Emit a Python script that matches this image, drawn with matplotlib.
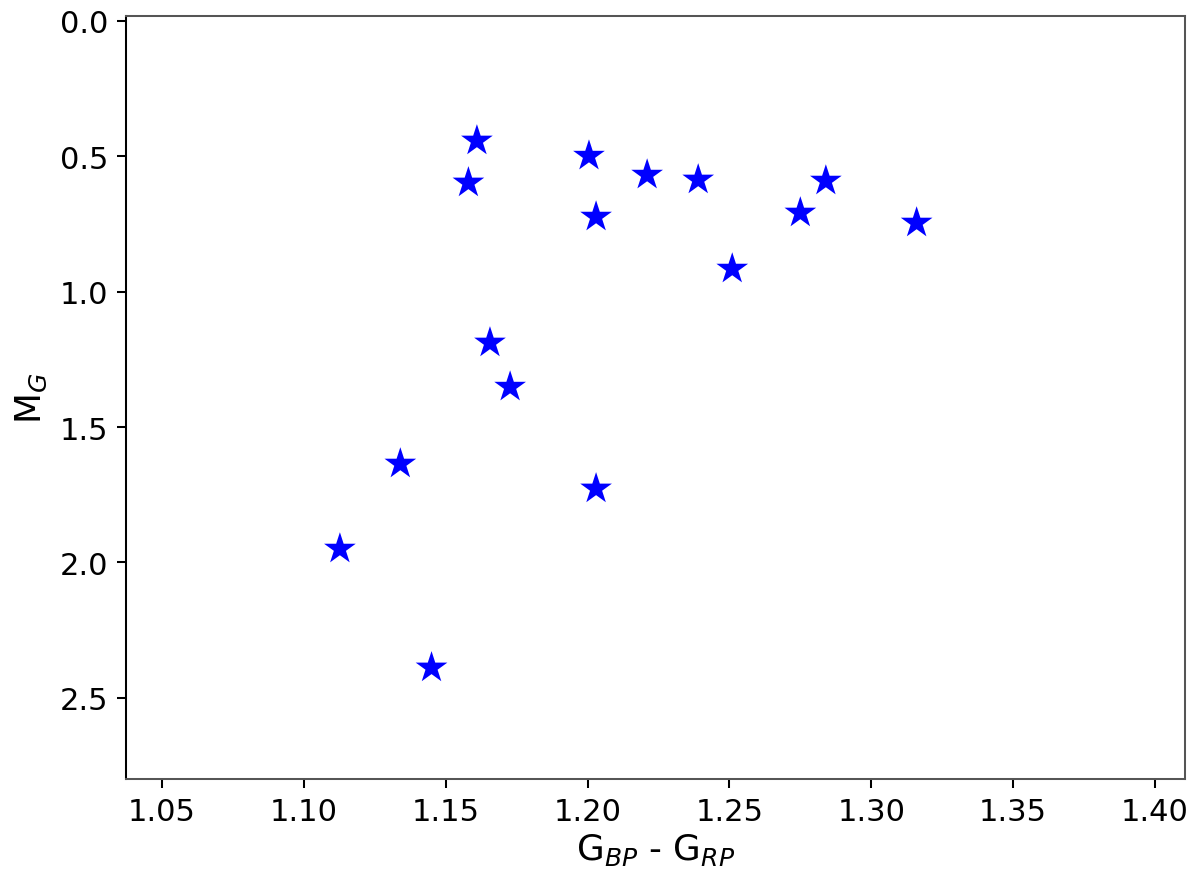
import matplotlib
matplotlib.use('Agg')
import matplotlib.pyplot as plt

# colour index G_BP - G_RP and absolute magnitude M_G
bp_rp = [1.161, 1.158, 1.2005, 1.203, 1.221, 1.239, 1.251, 1.275, 1.284, 1.316,
         1.1656, 1.1727, 1.134, 1.203, 1.1127, 1.145]
m_g = [0.443, 0.598, 0.499, 0.724, 0.569, 0.587, 0.916, 0.709, 0.591, 0.746,
       1.189, 1.352, 1.636, 1.728, 1.950, 2.389]

fig = plt.figure(figsize=(1200 / 184, 884 / 184), dpi=184)
ax = fig.add_axes([0.105, 0.1176, 0.8825, 0.8632])

ax.scatter(bp_rp, m_g, marker='*', s=170, color='blue', edgecolors='none')

ax.set_xlim(1.0373, 1.4106)
ax.set_ylim(2.8, -0.018)
ax.set_xticks([1.05, 1.10, 1.15, 1.20, 1.25, 1.30, 1.35, 1.40])
ax.set_yticks([0.0, 0.5, 1.0, 1.5, 2.0, 2.5])
ax.set_xlabel('G$_{BP}$ - G$_{RP}$', fontsize=14, labelpad=2)
ax.set_ylabel('M$_G$', fontsize=14, labelpad=4)
ax.tick_params(labelsize=12)

for sp in ['top', 'bottom', 'right']:
    ax.spines[sp].set_color('#555555')

plt.savefig('out.png', dpi=184)
